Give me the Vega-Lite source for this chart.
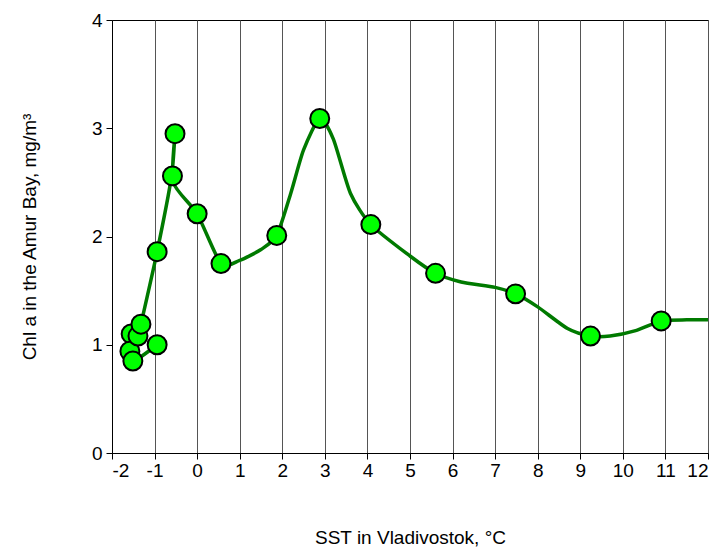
{
"$schema":"https://vega.github.io/schema/vega-lite/v6.json",
"width":596,"height":433,
"padding":{"left":20,"top":11,"right":5,"bottom":0},
"config":{"font":"Liberation Sans","view":{"stroke":"black","strokeWidth":1},
"axis":{"labelFontSize":19,"titleFontSize":19,"labelColor":"black","titleColor":"black","titleFontWeight":"normal","domainColor":"black","tickColor":"black"}},
"datasets":{
"pts":[{"x":-1.55,"y":1.1},{"x":-1.58,"y":0.94},{"x":-1.51,"y":0.85},{"x":-1.39,"y":1.08},{"x":-1.32,"y":1.19},{"x":-0.94,"y":1.0},{"x":-0.94,"y":1.86},{"x":-0.58,"y":2.56},{"x":-0.52,"y":2.95},{"x":0.0,"y":2.21},{"x":0.56,"y":1.75},{"x":1.87,"y":2.01},{"x":2.88,"y":3.09},{"x":4.08,"y":2.11},{"x":5.6,"y":1.66},{"x":7.48,"y":1.47},{"x":9.24,"y":1.08},{"x":10.9,"y":1.22}],
"curve":[{"o":1,"x":-0.94,"y":1.0},{"o":2,"x":-1.51,"y":0.85},{"o":3,"x":-1.39,"y":1.08},{"o":4,"x":-1.32,"y":1.19},{"o":5,"x":-0.94,"y":1.86},{"o":6,"x":-0.6,"y":2.56},{"o":7,"x":-0.52,"y":2.95},{"o":8,"x":-0.56,"y":2.5},{"o":9,"x":0.0,"y":2.21},{"o":10,"x":0.56,"y":1.75},{"o":11,"x":1.0,"y":1.78},{"o":12,"x":1.5,"y":1.88},{"o":13,"x":1.87,"y":2.01},{"o":14,"x":2.2,"y":2.4},{"o":15,"x":2.5,"y":2.8},{"o":16,"x":2.88,"y":3.09},{"o":17,"x":3.2,"y":2.9},{"o":18,"x":3.6,"y":2.4},{"o":19,"x":4.08,"y":2.11},{"o":20,"x":5.0,"y":1.82},{"o":21,"x":5.6,"y":1.66},{"o":22,"x":6.2,"y":1.58},{"o":23,"x":7.0,"y":1.53},{"o":24,"x":7.48,"y":1.47},{"o":25,"x":8.0,"y":1.35},{"o":26,"x":8.7,"y":1.15},{"o":27,"x":9.24,"y":1.08},{"o":28,"x":9.7,"y":1.08},{"o":29,"x":10.3,"y":1.13},{"o":30,"x":10.9,"y":1.22},{"o":31,"x":11.5,"y":1.23},{"o":32,"x":12.0,"y":1.23}]},
"layer":[
{"data":{"name":"curve"},"mark":{"type":"line","color":"#007a00","strokeWidth":3.5,"interpolate":"cardinal","tension":0.3},
"encoding":{"x":{"field":"x","type":"quantitative","scale":{"domain":[-2,12],"nice":false},
"axis":{"values":[-2,-1,0,1,2,3,4,5,6,7,8,9,10,11,12],"labelExpr":"datum.value<0 ? '-'+abs(datum.value) : ''+datum.value","grid":true,"gridColor":"#555","gridWidth":1,"gridOpacity":1,"title":"SST in Vladivostok, °C","titlePadding":48,"labelPadding":2,"tickSize":6}},
"y":{"field":"y","type":"quantitative","scale":{"domain":[0,4],"nice":false},
"axis":{"values":[0,1,2,3,4],"labelExpr":"''+datum.value","grid":false,"title":"Chl a in the Amur Bay, mg/m³","titlePadding":52,"labelPadding":4,"tickSize":6}},
"order":{"field":"o"}}},
{"data":{"name":"pts"},"mark":{"type":"point","filled":true,"fill":"#00ff00","stroke":"black","strokeWidth":2,"opacity":1,"size":360},
"encoding":{"x":{"field":"x","type":"quantitative"},"y":{"field":"y","type":"quantitative"}}}
]}
